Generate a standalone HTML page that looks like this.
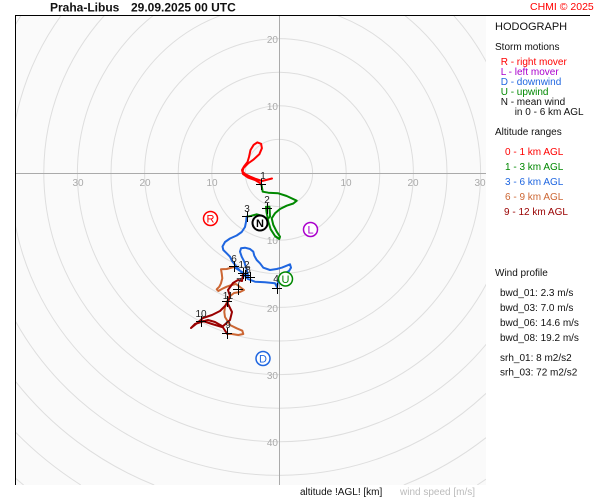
<!DOCTYPE html>
<html><head><meta charset="utf-8"><style>
html,body{margin:0;padding:0;background:#fff;width:600px;height:500px;overflow:hidden;}
svg{display:block;font-family:"Liberation Sans",Arial,sans-serif;}
</style></head><body>
<svg width="600" height="500" viewBox="0 0 600 500" xmlns="http://www.w3.org/2000/svg">
<defs><clipPath id="pc"><rect x="15" y="15" width="471" height="470"/></clipPath></defs>
<rect x="0" y="0" width="600" height="500" fill="#fff"/>
<rect x="15" y="15" width="471" height="470" fill="#fafafa"/>
<g clip-path="url(#pc)" fill="none" stroke="#dedede" stroke-width="1">
<circle cx="279" cy="173" r="33.6"/><circle cx="279" cy="173" r="67.2"/><circle cx="279" cy="173" r="100.8"/>
<circle cx="279" cy="173" r="134.4"/><circle cx="279" cy="173" r="168"/>
<path d="M404.2,15 A201.6,201.6 0 1 1 153.8,15"/>
<path d="M453.2,15 A235.2,235.2 0 1 1 104.8,15"/>
<path d="M496.5,15 A268.8,268.8 0 1 1 61.5,15"/>
<path d="M486,393.4 A302.4,302.4 0 0 1 15,320.5 M15,25.5 A302.4,302.4 0 0 1 21.2,15"/>
<path d="M486,437.7 A336,336 0 0 1 403.8,485 M154.2,485 A336,336 0 0 1 15,380.8"/>
<path d="M486,479.2 A369.6,369.6 0 0 1 477.2,485 M80.8,485 A369.6,369.6 0 0 1 15,431.7"/>
<path d="M23.6,485 A403.2,403.2 0 0 1 15,477.7"/>
</g>
<g stroke="#aaa" stroke-width="1">
<line x1="279.5" y1="15" x2="279.5" y2="485"/>
<line x1="15" y1="173.5" x2="486" y2="173.5"/>
</g>
<g font-size="10" fill="#aaa">
<g text-anchor="end">
<text x="278" y="43">20</text><text x="278" y="110">10</text>
<text x="278" y="244">10</text><text x="278" y="312">20</text>
<text x="278" y="379">30</text><text x="278" y="446">40</text>
</g>
<g text-anchor="middle">
<text x="78" y="186">30</text><text x="145" y="186">20</text><text x="212" y="186">10</text>
<text x="346" y="186">10</text><text x="413" y="186">20</text><text x="480" y="186">30</text>
</g>
</g>
<g fill="none" stroke-width="2" stroke-linejoin="round" stroke-linecap="round">
<path stroke="#ff0000" d="M272,178.5 L266,180 L262,181 L256,179 L250,176.5 L245,174 L242.5,171.5 L243.5,168 L248,163.5 L253.7,159.4 L259.3,154.3 L261.9,148.2 L261.1,143.8 L257.4,142.4 L253.7,144.8 L250.5,150 L249,157 L247.5,162 L244,166.5 L242,170 L243,174 L248,177.5 L255,180 L260,183 L261.5,185"/>
<path stroke="#008800" d="M261.5,185 L262.7,191.7 L268.3,192.7 L278.3,193.3 L286.7,196 L296.7,200.7 L293.3,203.5 L286.7,205.7 L280,209 L275,213.3 L271.7,218.3 L273.3,225 L276.7,231.7 L280,236.7 L279.3,239 L275,236 L270.7,229.3 L268.3,221.7 L266.5,212 L266,206.7 L269.5,206.7 L270,216.7 L267.3,219.3 L262.7,216 L256.7,214.3 L250.7,216 L246.7,216.7"/>
<path stroke="#1f66e0" d="M246.7,216.7 L246,222 L245,227 L241.7,232 L236.7,235.5 L230,238.5 L225,242 L222.5,246.5 L223.3,250 L226.7,253.3 L230,256.7 L232,261 L236,266 L242,273 L248,279 L255,281.7 L265,282.3 L275,283.3 L277,287 L278.3,280 L281.7,276.7 L285,273.3 L289,271 L291,267.7 L290,264.3 L286.7,265.7 L281.7,267.7 L276.7,269 L270,270 L263.3,267.7 L260,263.3 L256.7,260 L254.3,255.7 L253.3,251.7 L250,249 L245,247.7 L241,248.3 L240,251.7 L241.7,256.7 L244.3,261.7 L245.7,266.7 L247.3,271.7 L248.3,276.7 L242,272 L234,267"/>
<path stroke="#cc6633" d="M234,267 L226.7,269 L221,269.3 L221.7,273.3 L222.3,278.3 L221,283.3 L219.3,286.7 L216.7,289.3 L218.3,291 L223.3,288.3 L226.7,286.7 L231.7,285 L236,284 L240,287 L244,290 L240,292 L234,293 L229,297 L227,302 L225,307 L224.3,312 L225,317 L230,325 L236.7,328.3 L242.3,330.7 L243.3,334 L238.3,335 L231.7,334 L227.3,334"/>
<path stroke="#990000" d="M227.3,334 L222,326 L215,322 L208,320 L201,322 L195,324 L191,328 L196,324 L203,318 L212,315 L220,311 L225,306 L228,302 L230,296 L228,290 L233,283 L238,280 L242,281 L243,274"/>
<path stroke="#990000" d="M203,321 L212,324 L222,327 L230,320 L232,312 L228,304"/>
</g>
<g stroke="#000" stroke-width="1">
<path d="M256,184.5h10M261.5,179v11"/>
<path d="M262,208.5h10M267.5,203v11"/>
<path d="M242,216.5h10M247.5,211v11"/>
<path d="M272,288.5h10M277.5,283v11"/>
<path d="M245,277.5h10M250.5,272v11"/>
<path d="M229,266.5h10M234.5,261v11"/>
<path d="M238,273.5h10M243.5,268v11"/>
<path d="M240,275.5h10M245.5,270v11"/>
<path d="M233,289.5h10M238.5,284v11"/>
<path d="M222,301.5h10M227.5,296v11"/>
<path d="M196,321.5h10M201.5,316v11"/>
<path d="M222,333.5h10M227.5,328v11"/>
</g>
<g font-size="10" fill="#222" text-anchor="middle">
<text x="263" y="179">1</text><text x="267" y="203">2</text><text x="247" y="212">3</text>
<text x="276" y="282">4</text><text x="234" y="262">6</text><text x="244" y="268">12</text>
<text x="248" y="273">8</text><text x="239" y="285">7</text><text x="228" y="299">11</text>
<text x="201" y="317">10</text><text x="228" y="328">9</text>
</g>
<g stroke-width="1.5" fill="#fff" font-size="11" text-anchor="middle">
<circle cx="210.5" cy="218.5" r="7" stroke="#ff0000"/><text x="210.5" y="222.5" fill="#ff0000" stroke="none">R</text>
<circle cx="310.5" cy="229.5" r="7" stroke="#aa00cc"/><text x="310.5" y="233.5" fill="#aa00cc" stroke="none">L</text>
<circle cx="285.5" cy="279" r="7" stroke="#008800"/><text x="285.5" y="283" fill="#008800" stroke="none">U</text>
<circle cx="263" cy="358.5" r="7" stroke="#1f66e0"/><text x="263" y="362.5" fill="#1f66e0" stroke="none">D</text>
<circle cx="260" cy="223" r="7.5" stroke="#000" stroke-width="2"/><text x="260" y="227" fill="#000" stroke="none" font-weight="bold">N</text>
</g>
<line x1="15.5" y1="15" x2="15.5" y2="485" stroke="#000" stroke-width="1"/>
<line x1="15" y1="15.5" x2="590" y2="15.5" stroke="#000" stroke-width="1"/>
<g font-weight="bold" font-size="12" fill="#111">
<text x="50" y="11.5">Praha-Libus</text><text x="131" y="11.5">29.09.2025 00 UTC</text>
</g>
<text x="530" y="10" font-size="10.5" fill="#ff0000">CHMI © 2025</text>
<g font-size="10" fill="#111">
<text x="495" y="30" font-size="11">HODOGRAPH</text>
<text x="495" y="50">Storm motions</text>
<text x="500.7" y="65" fill="#ff0000">R - right mover</text>
<text x="500.7" y="75" fill="#aa00cc">L - left mover</text>
<text x="500.7" y="85" fill="#1f66e0">D - downwind</text>
<text x="500.7" y="95" fill="#008800">U - upwind</text>
<text x="500.7" y="105">N - mean wind</text>
<text x="514.7" y="115">in 0 - 6 km AGL</text>
<text x="495" y="135">Altitude ranges</text>
<text x="505" y="155" fill="#ff0000">0 - 1 km AGL</text>
<text x="505" y="170" fill="#008800">1 - 3 km AGL</text>
<text x="505" y="185" fill="#1f66e0">3 - 6 km AGL</text>
<text x="505" y="200" fill="#cc6633">6 - 9 km AGL</text>
<text x="504" y="215" fill="#990000">9 - 12 km AGL</text>
<text x="495" y="276">Wind profile</text>
<text x="500" y="296">bwd_01: 2.3 m/s</text>
<text x="500" y="311">bwd_03: 7.0 m/s</text>
<text x="500" y="326">bwd_06: 14.6 m/s</text>
<text x="500" y="341">bwd_08: 19.2 m/s</text>
<text x="500" y="361">srh_01: 8 m2/s2</text>
<text x="500" y="375.5">srh_03: 72 m2/s2</text>
<text x="300" y="495">altitude !AGL! [km]</text>
<text x="400" y="495" fill="#bbb">wind speed [m/s]</text>
</g>
</svg>
</body></html>
